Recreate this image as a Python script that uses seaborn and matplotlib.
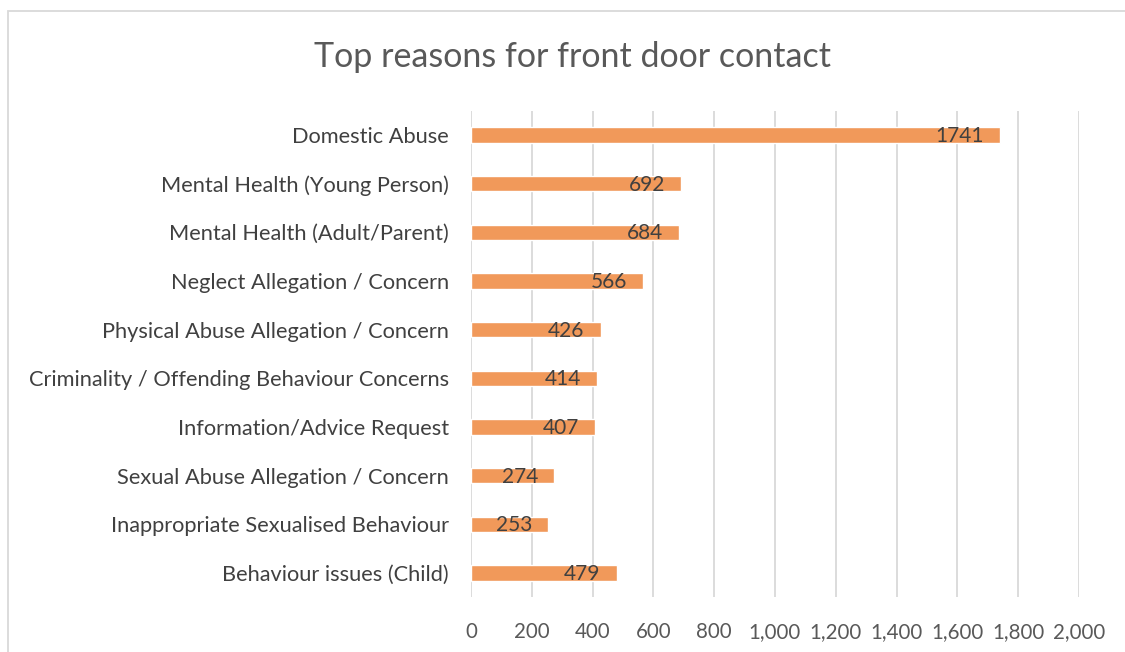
import matplotlib
matplotlib.use("Agg")
import matplotlib.pyplot as plt
from matplotlib.patches import Rectangle
import seaborn as sns
import pandas as pd

categories = [
    "Domestic Abuse",
    "Mental Health (Young Person)",
    "Mental Health (Adult/Parent)",
    "Neglect Allegation / Concern",
    "Physical Abuse Allegation / Concern",
    "Criminality / Offending Behaviour Concerns",
    "Information/Advice Request",
    "Sexual Abuse Allegation / Concern",
    "Inappropriate Sexualised Behaviour",
    "Behaviour issues (Child)",
]
values = [1741, 692, 684, 566, 426, 414, 407, 274, 253, 479]
xticks = [0, 200, 400, 600, 800, 1000, 1200, 1400, 1600, 1800, 2000]
title = "Top reasons for front door contact"

sns.set_theme(style="white")
plt.rcParams["font.family"] = ["Lato", "DejaVu Sans"]

df = pd.DataFrame({"reason": categories, "count": values})

W, H = 1125, 652
fig = plt.figure(figsize=(W / 100, H / 100), dpi=100)
ax = fig.add_axes([471 / W, 1 - 597.4 / H, (1079 - 471) / W, (597.4 - 110.6) / H])

sns.barplot(data=df, x="count", y="reason", orient="h", color="#F1995A",
            saturation=1, width=0.32, ax=ax, zorder=3)

ax.set_xlim(0, 2000)
ax.set_xticks(xticks)
ax.set_xticklabels([f"{v:,}" for v in xticks])
ax.xaxis.grid(True, color="#D9D9D9", linewidth=1.3, zorder=0)
ax.set_axisbelow(True)
for s in ax.spines.values():
    s.set_visible(False)
ax.set_xlabel("")
ax.set_ylabel("")
ax.tick_params(axis="x", length=0, pad=18, labelsize=14.8, labelcolor="#595959")
ax.tick_params(axis="y", length=0, pad=16, labelsize=15.7, labelcolor="#404040")

for i, v in enumerate(values):
    ax.annotate(str(v), xy=(v, i), xytext=(-16, -1), textcoords="offset pixels",
                ha="right", va="center", fontsize=15, color="#404040", zorder=4)

fig.text(573 / W, 1 - 57 / H, title, ha="center", va="center",
         fontsize=24.5, color="#595959")

fig.patches.append(Rectangle((8 / W, -0.05), 1.2, 1 - 11 / H + 0.05,
                             transform=fig.transFigure, fill=False,
                             edgecolor="#D9D9D9", linewidth=1.3))

fig.savefig("out.png", dpi=100)
